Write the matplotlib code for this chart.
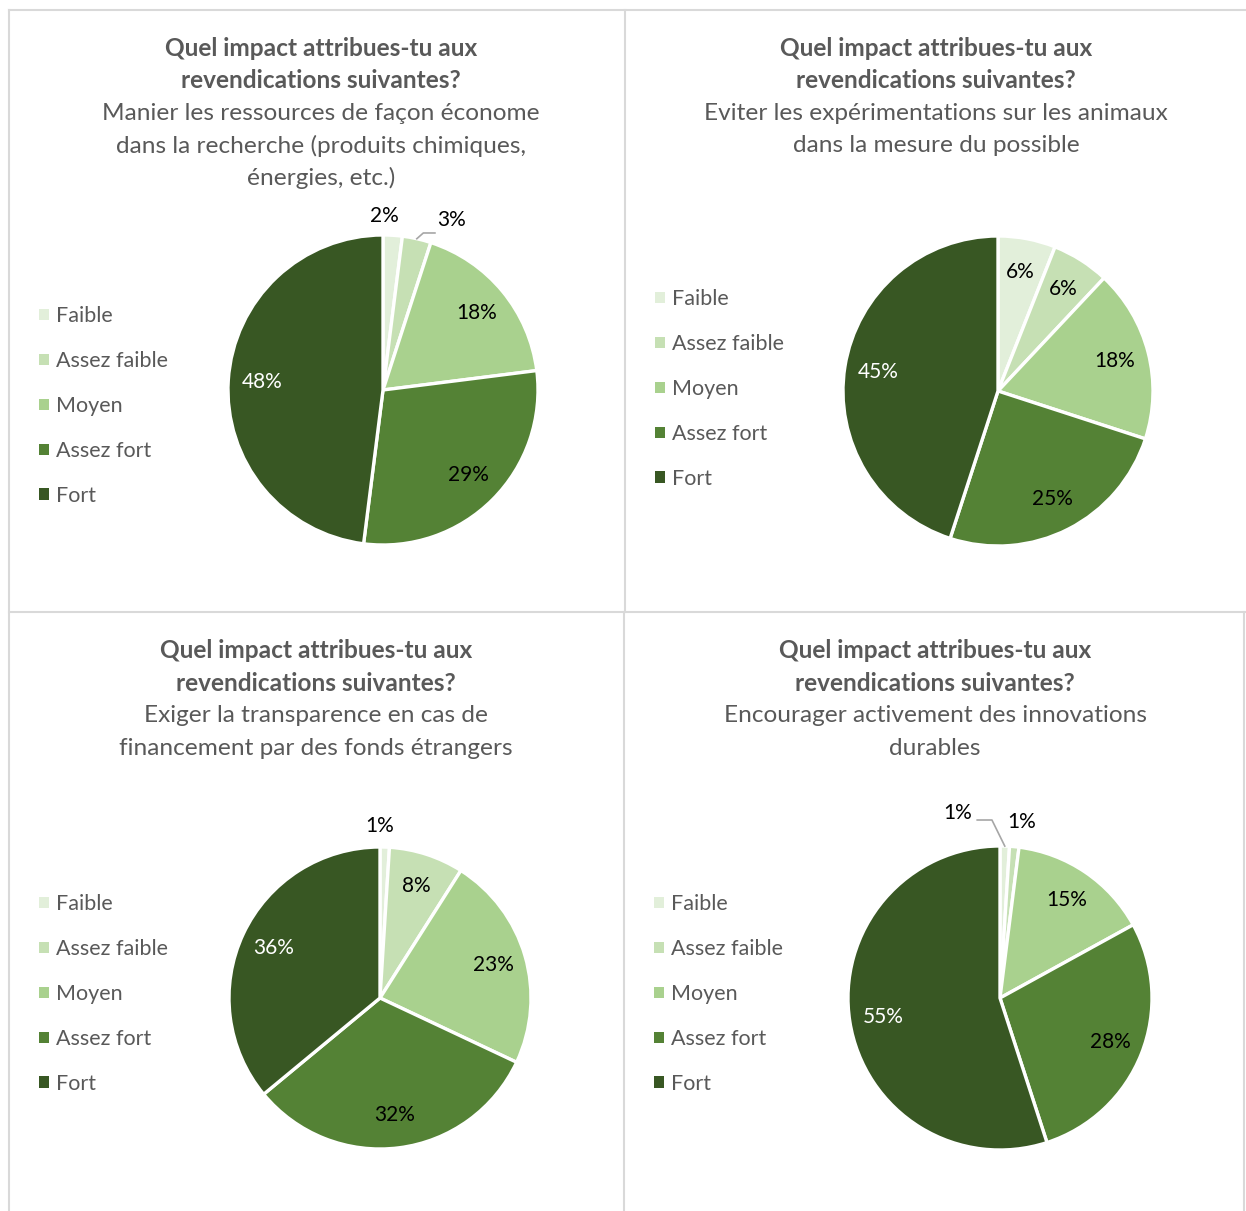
import matplotlib
matplotlib.use("Agg")
import matplotlib.pyplot as plt
from matplotlib.patches import Patch
from matplotlib.lines import Line2D
import numpy as np

plt.rcParams['font.family'] = ['Lato', 'DejaVu Sans']

categories = ["Faible", "Assez faible", "Moyen", "Assez fort", "Fort"]
colors = ["#E2EFDA", "#C6E0B4", "#A9D18E", "#548235", "#385723"]

title_bold = ["Quel impact attribues-tu aux", "revendications suivantes?"]
subtitles = [
    ["Manier les ressources de façon économe", "dans la recherche (produits chimiques,", "énergies, etc.)"],
    ["Eviter les expérimentations sur les animaux", "dans la mesure du possible"],
    ["Exiger la transparence en cas de", "financement par des fonds étrangers"],
    ["Encourager activement des innovations", "durables"],
]
values_1 = [2, 3, 18, 29, 48]
values_2 = [6, 6, 18, 25, 45]
values_3 = [1, 8, 23, 32, 36]
values_4 = [1, 1, 15, 28, 55]
all_values = [values_1, values_2, values_3, values_4]

W, H = 1246, 1211
fig = plt.figure(figsize=(W / 100, H / 100), dpi=100)

TXT = "#595959"
GRID = "#D9D9D9"

def fx(px):
    return px / W

def fy(py):
    return 1 - py / H

# panel borders
for (x0, y0, x1, y1) in [(9, 10, 1246, 10), (9, 612, 1246, 612), (9, 10, 9, 1211),
                         (625, 10, 625, 612), (624, 612, 624, 1211), (1244, 612, 1244, 1211)]:
    fig.add_artist(Line2D([fx(x0), fx(x1)], [fy(y0), fy(y1)], color=GRID, lw=1.5,
                          transform=fig.transFigure))

layout = [
    dict(c=(383, 390), r=155, tx=321, ty=48, lx=39, ly=406),
    dict(c=(998, 391), r=155, tx=936, ty=48, lx=655, ly=389),
    dict(c=(380, 998), r=151, tx=316, ty=651, lx=39, ly=994),
    dict(c=(1000, 998), r=152, tx=935, ty=651, lx=654, ly=994),
]

small = {
    (0, 0): dict(pos=(0.01, 1.12)),
    (0, 1): dict(pos=(0.35, 1.095), ha='left', leader=[(0.26, 1.013), (0.335, 1.013)]),
    (2, 0): dict(pos=(0.0, 1.14)),
    (3, 0): dict(pos=(-0.185, 1.215), ha='right', leader=[(-0.053, 1.171), (-0.15, 1.171)]),
    (3, 1): dict(pos=(0.145, 1.16)),
}

LINE = 32.5
TFS = 17.6
for p, (vals, lay) in enumerate(zip(all_values, layout)):
    y = lay['ty']
    for line in title_bold:
        fig.text(fx(lay['tx']), fy(y), line, ha='center', va='center', fontsize=TFS,
                 fontweight='bold', color=TXT)
        y += LINE
    for line in subtitles[p]:
        fig.text(fx(lay['tx']), fy(y), line, ha='center', va='center', fontsize=TFS,
                 color=TXT)
        y += LINE

    cx, cy = lay['c']
    r = lay['r']
    ax = fig.add_axes([fx(cx - r), fy(cy + r), 2 * r / W, 2 * r / H])
    wedges, _ = ax.pie(vals, colors=colors, startangle=90, counterclock=False,
                       wedgeprops=dict(edgecolor='white', linewidth=2.4))
    ax.set_xlim(-1, 1)
    ax.set_ylim(-1, 1)
    ax.set_aspect('equal')
    ax.axis('off')

    total = sum(vals)
    cum = 0
    for i, v in enumerate(vals):
        mid = 90 - (cum + v / 2) / total * 360
        cum += v
        a = np.deg2rad(mid)
        txt = f"{v}%"
        col = 'white' if i == 4 else 'black'
        if (p, i) in small:
            s = small[(p, i)]
            x, yy = s['pos']
            ax.text(x, yy, txt, ha=s.get('ha', 'center'), va='center', fontsize=15,
                    color='black', clip_on=False)
            if 'leader' in s:
                pts = [(np.cos(a), np.sin(a))] + s['leader']
                ax.add_line(Line2D([q[0] for q in pts], [q[1] for q in pts],
                                   color='#A6A6A6', lw=1.2, clip_on=False))
        else:
            d = 0.78
            ax.text(d * np.cos(a), d * np.sin(a), txt, ha='center', va='center',
                    fontsize=15, color=col)

    handles = [Patch(facecolor=c, edgecolor='none') for c in colors]
    fig.legend(handles, categories, loc='center left',
               bbox_to_anchor=(fx(lay['lx']), fy(lay['ly'])), bbox_transform=fig.transFigure,
               frameon=False, fontsize=15.5, labelcolor=TXT, handlelength=0.45,
               handleheight=0.45, handletextpad=0.35, labelspacing=1.16, borderpad=0,
               borderaxespad=0)

fig.savefig("out.png", dpi=100, facecolor='white')
